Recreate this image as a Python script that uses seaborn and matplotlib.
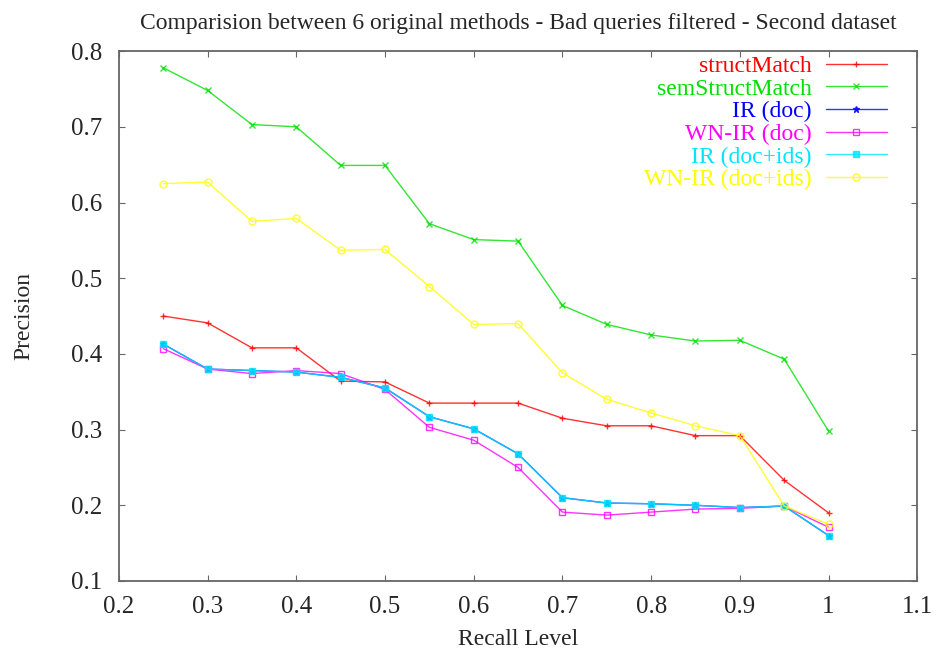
import numpy as np
import pandas as pd
import seaborn as sns
import matplotlib as mpl
import matplotlib.pyplot as plt

recall = [0.25, 0.3, 0.35, 0.4, 0.45, 0.5, 0.55, 0.6, 0.65, 0.7, 0.75, 0.8, 0.85, 0.9, 0.95, 1.0]

struct_match = [0.450, 0.441, 0.408, 0.408, 0.364, 0.363, 0.335, 0.335, 0.335, 0.315, 0.305, 0.305, 0.292, 0.292, 0.233, 0.190]
sem_struct_match = [0.778, 0.748, 0.703, 0.700, 0.649, 0.649, 0.572, 0.551, 0.549, 0.464, 0.439, 0.425, 0.417, 0.418, 0.393, 0.298]
ir_doc = [0.413, 0.380, 0.378, 0.376, 0.369, 0.355, 0.317, 0.301, 0.268, 0.210, 0.203, 0.202, 0.200, 0.197, 0.199, 0.160]
wn_ir_doc = [0.407, 0.380, 0.374, 0.378, 0.374, 0.353, 0.303, 0.286, 0.250, 0.191, 0.187, 0.191, 0.195, 0.196, 0.199, 0.171]
ir_doc_ids = [0.413, 0.380, 0.378, 0.376, 0.369, 0.355, 0.317, 0.301, 0.268, 0.210, 0.203, 0.202, 0.200, 0.197, 0.199, 0.160]
wn_ir_doc_ids = [0.625, 0.627, 0.575, 0.579, 0.537, 0.538, 0.489, 0.439, 0.440, 0.375, 0.340, 0.322, 0.305, 0.292, 0.199, 0.175]

labels = ['structMatch', 'semStructMatch', 'IR (doc)', 'WN-IR (doc)', 'IR (doc+ids)', 'WN-IR (doc+ids)']

sns.set_style('ticks')
mpl.rcParams.update({
    'font.family': ['Liberation Serif', 'DejaVu Serif'],
    'xtick.direction': 'in',
    'ytick.direction': 'in',
    'xtick.top': True,
    'ytick.right': True,
    'xtick.major.size': 4,
    'ytick.major.size': 4,
    'axes.linewidth': 1.3,
    'axes.edgecolor': '#666666',
})

fig = plt.figure(figsize=(9.36, 6.57), dpi=100)
ax = fig.add_axes([0.127, 0.1157, 0.853, 0.8065])

series = [
    (struct_match, '#ff0000', '+', 'full'),
    (sem_struct_match, '#00e000', 'x', 'full'),
    (ir_doc, '#0000ff', '*', 'full'),
    (wn_ir_doc, '#ff00ff', 's', 'none'),
    (ir_doc_ids, '#00e5ff', 's', 'full'),
    (wn_ir_doc_ids, '#ffff00', 'o', 'none'),
]

for (vals, col, mk, fill), lab in zip(series, labels):
    df = pd.DataFrame({'recall': recall, 'precision': vals})
    kw = dict(markersize=5, markeredgewidth=1, markeredgecolor=col)
    if fill == 'none':
        kw['markerfacecolor'] = 'none'
    sns.lineplot(data=df, x='recall', y='precision', ax=ax, color=col,
                 marker=mk, linewidth=1.0, alpha=0.8, label=lab, **kw)

ax.set_xlim(0.2, 1.1)
ax.set_ylim(0.1, 0.8)
ax.set_xticks(np.arange(0.2, 1.11, 0.1))
ax.set_yticks(np.arange(0.1, 0.81, 0.1))
ax.set_xticklabels(['0.2', '0.3', '0.4', '0.5', '0.6', '0.7', '0.8', '0.9', '1', '1.1'])
ax.set_yticklabels(['0.1', '0.2', '0.3', '0.4', '0.5', '0.6', '0.7', '0.8'])
ax.tick_params(labelsize=18, color='#666666')
ax.tick_params(axis='y', pad=12)
ax.tick_params(axis='x', pad=11)
ax.set_xlabel('Recall Level', fontsize=17, labelpad=8)
ax.set_ylabel('Precision', fontsize=17, labelpad=26)
ax.set_title('Comparision between 6 original methods - Bad queries filtered - Second dataset',
             fontsize=17, pad=16)

leg = ax.legend(loc='upper right', bbox_to_anchor=(0.962, 0.992), frameon=False,
                markerfirst=False, labelcolor='linecolor', fontsize=17,
                handlelength=2.6, handletextpad=0.6, labelspacing=0.05,
                borderpad=0, borderaxespad=0)
for h in leg.legend_handles:
    h.set_alpha(0.8)

plt.savefig('out.png', dpi=100)
plt.close()
